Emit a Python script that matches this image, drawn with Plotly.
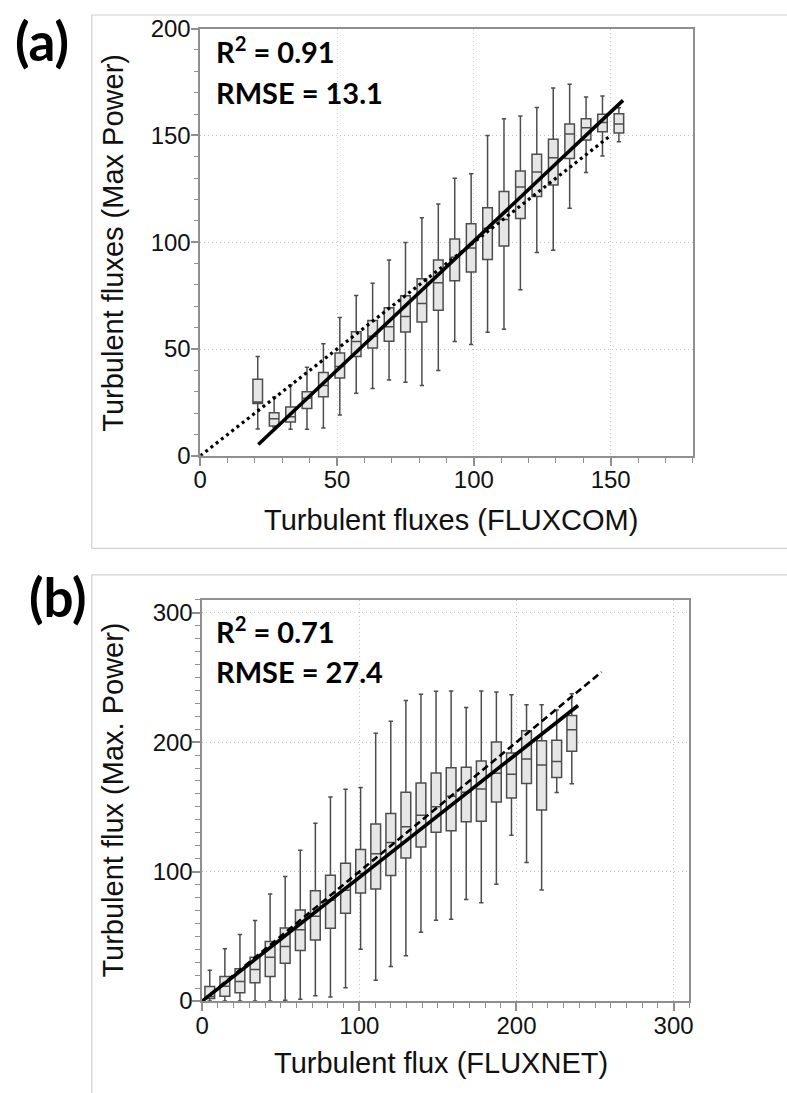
import plotly.graph_objects as go

W, H = 787, 1093

# ---------------- Panel (a) data: FLUXCOM vs Max Power ----------------
a_x = [21, 27, 33, 39, 45, 51, 57, 63, 69, 75, 81, 87, 93, 99, 105, 111, 117, 123, 129, 135, 141, 147, 153]
a_upper = [46.5, 27.5, 33.2, 41.5, 52.5, 64.8, 75.1, 80.8, 91.7, 99.9, 111.5, 117.9, 130.0, 132.0, 150.0, 157.8, 159.1, 163.1, 172.2, 174.0, 168.0, 168.5, 163.0]
a_q3 = [35.8, 20.2, 22.8, 30.0, 39.0, 48.1, 58.1, 63.4, 69.3, 74.9, 82.9, 91.7, 101.5, 108.6, 116.1, 123.8, 133.4, 141.2, 148.2, 155.3, 157.8, 159.9, 160.1]
a_med = [25.2, 17.3, 18.3, 26.9, 32.9, 41.8, 53.5, 56.0, 60.4, 65.2, 71.3, 81.0, 93.0, 97.3, 106.5, 110.6, 125.8, 132.9, 139.6, 150.7, 153.6, 156.1, 155.3]
a_q1 = [24.5, 13.9, 15.8, 22.1, 27.6, 36.4, 46.5, 50.5, 53.6, 58.0, 62.7, 68.1, 82.0, 86.0, 91.9, 98.2, 111.1, 121.4, 126.8, 139.2, 147.9, 151.7, 151.1]
a_lower = [12.6, 13.5, 12.4, 12.4, 13.0, 19.1, 29.3, 31.5, 35.5, 34.4, 32.9, 39.9, 53.5, 52.1, 57.9, 59.3, 77.8, 95.2, 96.2, 115.9, 132.6, 140.4, 147.0]
a_fit_x = [21.2, 154.5]
a_fit_y = [5.3, 166.4]
a_one_x = [0, 149.5]
a_one_y = [0, 149.5]

# ---------------- Panel (b) data: FLUXNET vs Max. Power ----------------
b_x = [4.8, 14.4, 24.0, 33.6, 43.2, 52.8, 62.4, 72.0, 81.6, 91.2, 100.8, 110.4, 120.0, 129.6, 139.2,
       148.8, 158.4, 168.0, 177.6, 187.2, 196.8, 206.4, 216.0, 225.6, 235.2]
b_upper = [23.8, 40.3, 51.3, 62.1, 82.6, 96.2, 116.4, 137.4, 157.7, 163.6, 165.0, 206.8, 216.1, 232.1, 236.9,
           239.3, 239.6, 226.8, 239.6, 238.8, 236.6, 228.9, 228.9, 224.9, 237.4]
b_q3 = [11.2, 19.0, 24.9, 33.8, 45.9, 56.4, 70.3, 85.1, 97.2, 106.4, 117.0, 136.8, 144.8, 161.3, 168.5,
        176.2, 180.2, 180.5, 185.5, 200.2, 191.6, 208.7, 201.0, 201.5, 220.5]
b_med = [3.5, 11.3, 15.1, 24.4, 33.8, 42.1, 55.1, 65.4, 77.9, 85.6, 98.5, 113.7, 122.4, 134.7, 143.5,
         150.1, 158.1, 161.3, 163.7, 175.9, 175.1, 186.9, 182.3, 185.0, 209.5]
b_q1 = [2.0, 3.6, 6.4, 14.1, 19.0, 29.2, 39.0, 47.2, 56.2, 67.7, 83.5, 86.5, 96.9, 110.5, 119.0,
        130.4, 131.5, 138.4, 138.9, 153.8, 156.8, 168.0, 147.5, 172.7, 193.0]
b_lower = [0.0, 0.0, 0.0, 0.0, 0.0, 0.5, 1.3, 4.1, 3.1, 10.3, 40.0, 16.0, 26.6, 34.9, 53.2,
           62.3, 63.1, 78.5, 75.9, 90.2, 128.0, 107.0, 85.7, 161.0, 167.8]
b_fit_x = [0, 239.2]
b_fit_y = [0, 228.3]
b_one_x = [0, 254.2]
b_one_y = [0, 254.2]

a_text = ["R<sup>2</sup> = 0.91", "RMSE = 13.1"]
b_text = ["R<sup>2</sup> = 0.71", "RMSE = 27.4"]


def px(x):
    return x / W


def py(y):
    return 1 - y / H


BOX_FILL = "#e6e6e6"
BOX_LINE = "#4d4d4d"
AX_COL = "#8f8f8f"
GRID_COL = "#c4c4c4"
TICK_FONT = dict(family="Liberation Sans, Arial, sans-serif", size=24, color="#111")
TITLE_FONT = dict(family="Liberation Sans, Arial, sans-serif", size=29, color="#111")

fig = go.Figure()

fig.add_trace(go.Box(
    x=a_x, q1=a_q1, median=a_med, q3=a_q3, lowerfence=a_lower, upperfence=a_upper,
    width=3.5, whiskerwidth=0.45, fillcolor=BOX_FILL, line=dict(color=BOX_LINE, width=1.5),
    boxpoints=False, showlegend=False, xaxis="x", yaxis="y"))
fig.add_trace(go.Scatter(x=a_one_x, y=a_one_y, mode="lines", showlegend=False,
                         line=dict(color="black", width=3.2, dash="3px,3.6px"), xaxis="x", yaxis="y"))
fig.add_trace(go.Scatter(x=a_fit_x, y=a_fit_y, mode="lines", showlegend=False,
                         line=dict(color="black", width=3.6), xaxis="x", yaxis="y"))

fig.add_trace(go.Box(
    x=b_x, q1=b_q1, median=b_med, q3=b_q3, lowerfence=b_lower, upperfence=b_upper,
    width=6.2, whiskerwidth=0.45, fillcolor=BOX_FILL, line=dict(color=BOX_LINE, width=1.5),
    boxpoints=False, showlegend=False, xaxis="x2", yaxis="y2"))
fig.add_trace(go.Scatter(x=b_one_x, y=b_one_y, mode="lines", showlegend=False,
                         line=dict(color="black", width=2.6, dash="7px,4px"), xaxis="x2", yaxis="y2"))
fig.add_trace(go.Scatter(x=b_fit_x, y=b_fit_y, mode="lines", showlegend=False,
                         line=dict(color="black", width=3.6), xaxis="x2", yaxis="y2"))


def axis(domain, rng, dtick, anchor, standoff):
    return dict(
        domain=domain, range=rng, dtick=dtick, tick0=0, anchor=anchor,
        showline=True, mirror=True, linecolor=AX_COL, linewidth=1.5,
        ticks="outside", ticklen=8, tickwidth=1.5, tickcolor=AX_COL,
        minor=dict(dtick=10, tick0=0, ticks="outside", ticklen=5, tickwidth=1.2,
                   tickcolor=AX_COL, showgrid=False),
        showgrid=True, gridcolor=GRID_COL, griddash="1px,3px", gridwidth=1,
        zeroline=False, tickfont=TICK_FONT, fixedrange=True,
        ticklabelstandoff=standoff,
    )


layout = dict(
    width=W, height=H, margin=dict(l=0, r=0, t=0, b=0),
    paper_bgcolor="white", plot_bgcolor="white",
    xaxis=axis([px(196), px(695.5)], [0, 180], 50, "y", -6),
    yaxis=axis([py(453), py(15)], [0, 200], 50, "x", -5),
    xaxis2=axis([px(198), px(692)], [0, 310], 100, "y2", -6),
    yaxis2=axis([py(1012), py(600.6)], [0, 310], 100, "x2", -5),
)
fig.update_layout(**layout)

shapes = [
    dict(type="rect", xref="paper", yref="paper", x0=px(86), x1=1.05, y0=py(548), y1=py(1),
         line=dict(color="#d2d2d2", width=1.2), fillcolor="rgba(0,0,0,0)", layer="below"),
    dict(type="rect", xref="paper", yref="paper", x0=px(86), x1=1.05, y0=-0.05, y1=py(575),
         line=dict(color="#d2d2d2", width=1.2), fillcolor="rgba(0,0,0,0)", layer="below"),
]
fig.update_layout(shapes=shapes)

BOLD = dict(family="Lato, Open Sans, sans-serif", size=29, color="black", weight="bold")
PANEL = dict(family="Lato, Open Sans, sans-serif", size=53, color="black", weight="bold")

ann = []
ann.append(dict(text="(a)", x=px(36), y=py(27), xref="paper", yref="paper", showarrow=False,
                xanchor="center", yanchor="middle", font=PANEL))
ann.append(dict(text="(b)", x=px(52), y=py(597), xref="paper", yref="paper", showarrow=False,
                xanchor="center", yanchor="middle", font=PANEL))
for t, yy in zip(a_text, [37, 81]):
    ann.append(dict(text=t, x=px(210), y=py(yy), xref="paper", yref="paper", showarrow=False,
                    xanchor="left", yanchor="middle", font=BOLD))
for t, yy in zip(b_text, [632, 674]):
    ann.append(dict(text=t, x=px(210), y=py(yy), xref="paper", yref="paper", showarrow=False,
                    xanchor="left", yanchor="middle", font=BOLD))
ann.append(dict(text="Turbulent fluxes (Max Power)", x=px(108), y=py(234), xref="paper", yref="paper",
                showarrow=False, textangle=-90, xanchor="center", yanchor="middle", font=TITLE_FONT))
ann.append(dict(text="Turbulent flux (Max. Power)", x=px(108), y=py(806), xref="paper", yref="paper",
                showarrow=False, textangle=-90, xanchor="center", yanchor="middle", font=TITLE_FONT))
ann.append(dict(text="Turbulent fluxes (FLUXCOM)", x=px(450), y=py(519), xref="paper", yref="paper",
                showarrow=False, xanchor="center", yanchor="middle", font=TITLE_FONT))
ann.append(dict(text="Turbulent flux (FLUXNET)", x=px(440), y=py(1076), xref="paper", yref="paper",
                showarrow=False, xanchor="center", yanchor="middle", font=TITLE_FONT))
fig.update_layout(annotations=ann)

fig.write_html("out.html")
